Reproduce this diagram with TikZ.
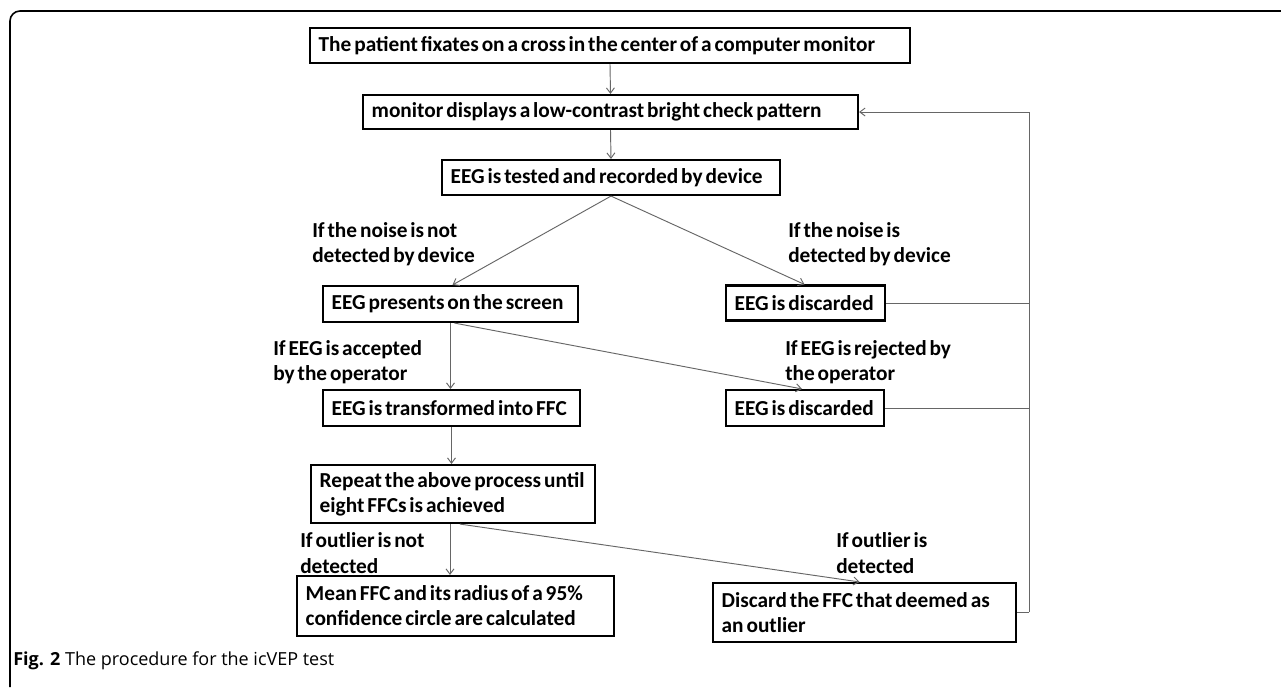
\documentclass[tikz,border=0pt]{standalone}
\usepackage{fontspec}
\setmainfont{Carlito}
\newfontfamily\boxfont[WordSpace=0.6]{Carlito}
\newfontfamily\capfont{Open Sans}
\usetikzlibrary{arrows.meta,calc}
\begin{document}
\begin{tikzpicture}[x=0.75pt,y=-0.75pt,
  box/.style={draw=black,line width=1.6pt,inner xsep=6.5pt,inner ysep=0pt,align=flush left,
    font=\boxfont\bfseries\fontsize{16}{18.75}\selectfont},
  lbl/.style={inner sep=0pt,align=left,anchor=west,
    font=\boxfont\bfseries\fontsize{16}{19}\selectfont},
  conn/.style={draw=black!60,line width=0.7pt},
  arr/.style={conn,-{Straight Barb[length=4pt,width=6pt]}}]
\useasboundingbox (0,0) rectangle (1281,687);
\fill[white] (0,0) rectangle (1281,687);
% frame
\draw[line width=1.2pt,rounded corners=7.5pt] (10,687) -- (10,11) -- (1281,11);
% boxes
\node[box,text width=437pt,minimum height=26.25pt] (b1) at (610,45.5) {\mbox{The patient fixates on a cross in the center of a computer monitor}};
\node[box,text width=358.25pt,minimum height=25.5pt] (b2) at (610.5,112) {\mbox{monitor displays a low-contrast bright check pattern}};
\node[box,text width=240.5pt,minimum height=26.25pt] (b3) at (611,177.5) {\mbox{EEG is tested and recorded by device}};
\node[box,text width=178.25pt,minimum height=27pt] (b4) at (450.5,304) {\mbox{EEG presents on the screen}};
\node[box,text width=106.25pt,minimum height=26.25pt] (b5) at (805.5,303) {\mbox{EEG is discarded}};
\node[box,text width=179.75pt,minimum height=27pt] (b6) at (451.5,408) {\mbox{EEG is transformed into FFC}};
\node[box,text width=105.5pt,minimum height=27pt] (b7) at (805,408) {\mbox{EEG is discarded}};
\node[box,text width=200pt,minimum height=43.5pt] (b8) at (453,494) {\mbox{Repeat the above process until}\\\mbox{eight FFCs is achieved}};
\node[box,text width=224.75pt,minimum height=45pt] (b9) at (455.5,606) {\mbox{Mean FFC and its radius of a 95\%}\\\mbox{confidence circle are calculated}};
\node[box,text width=214.25pt,minimum height=44.25pt] (b10) at (864.5,612.5) {\mbox{Discard the FFC that deemed as}\\\mbox{an outlier}};
% labels
\node[lbl] (l1) at (312,244.5) {If the noise is not\\detected by device};
\node[lbl] (l2) at (788,244.5) {If the noise is\\detected by device};
\node[lbl] (l3) at (273,362.5) {If EEG is accepted\\by the operator};
\node[lbl] (l4) at (785,362.5) {If EEG is rejected by\\the operator};
\node[lbl] (l5) at (300,553) {If outlier is not\\detected};
\node[lbl] (l6) at (836,553) {If outlier is\\detected};
% caption
\node[inner sep=0pt,anchor=west,font=\capfont\fontsize{13.5}{16}\selectfont] (cap) at (13,661) {\textbf{Fig. 2} The procedure for the icVEP test};
% connectors
\draw[arr] (b1.south) -- (b2.north);
\draw[arr] (b2.south) -- (b3.north);
\draw[arr] (b3.south) -- ($(b4.north)+(2,0)$);
\draw[arr] (b3.south) -- ($(b5.north)+(-1,0)$);
\coordinate (s4) at ($(b4.south)+(4,0)$);
\draw[arr] (b4.south) -- (b4.south |- b6.north);
\draw[arr] (s4) -- ($(b7.north)+(-3,0)$);
\draw[arr] (b6.south) -- (b6.south |- b8.north);
\coordinate (s8) at ($(b8.south)+(-3,0)$);
\coordinate (d8) at ($(b8.south)+(7,0)$);
\draw[arr] (s8) -- (s8 |- b9.north);
\draw[arr] (d8) -- ($(b10.north)+(-5,0)$);
% feedback
\coordinate (fbtop) at (1029,112);
\coordinate (fb5) at (1029,303);
\coordinate (fb7) at (1029,408);
\coordinate (fb10) at (1029,612);
\draw[conn] (b5.east) -- (fb5);
\draw[conn] (b7.east) -- (fb7);
\draw[conn] (b10.east |- fb10) -- (fb10);
\draw[arr] (fb10) -- (fbtop) -- (b2.east);
\end{tikzpicture}
\end{document}
